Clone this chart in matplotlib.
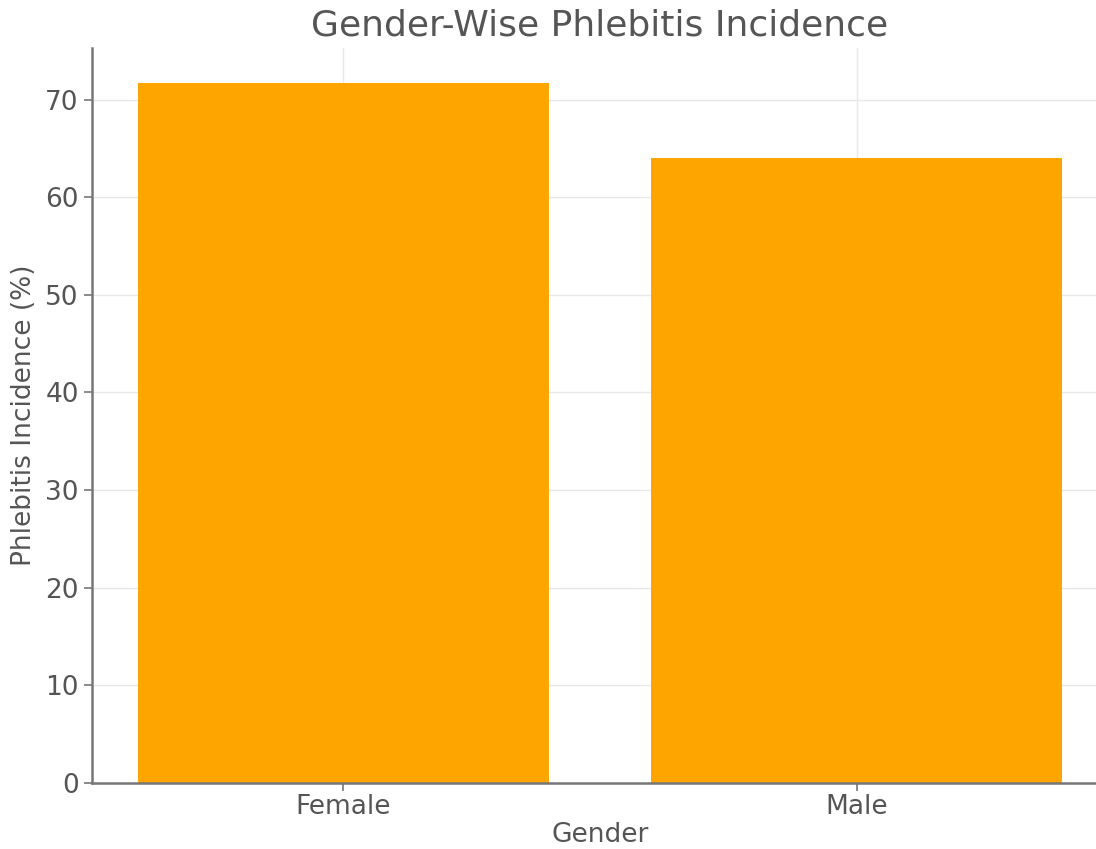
import matplotlib
matplotlib.use("Agg")
import matplotlib.pyplot as plt

genders = ["Female", "Male"]
incidence = [71.7, 64.0]

text_color = "#555555"
spine_color = "#777777"

fig = plt.figure(figsize=(10.96, 8.49), dpi=100)
ax = fig.add_axes([92 / 1096, 66 / 849, 1016 / 1096, 735 / 849])

ax.bar(genders, incidence, width=0.8, color="orange", zorder=2)

ax.set_title("Gender-Wise Phlebitis Incidence", fontsize=26, color=text_color, pad=9)
ax.set_xlabel("Gender", fontsize=19, color=text_color, labelpad=1)
ax.set_ylabel("Phlebitis Incidence (%)", fontsize=19, color=text_color, labelpad=6)

ax.grid(True, color="#e8e8e8", linewidth=1, zorder=0)
ax.tick_params(axis="both", labelsize=19, colors=text_color, color=spine_color, length=6, width=1.2)
ax.tick_params(axis="x", pad=2)

for side in ["top", "right"]:
    ax.spines[side].set_visible(False)
for side in ["left", "bottom"]:
    ax.spines[side].set_color(spine_color)
    ax.spines[side].set_linewidth(1.8)

fig.savefig("out.png", dpi=100)
